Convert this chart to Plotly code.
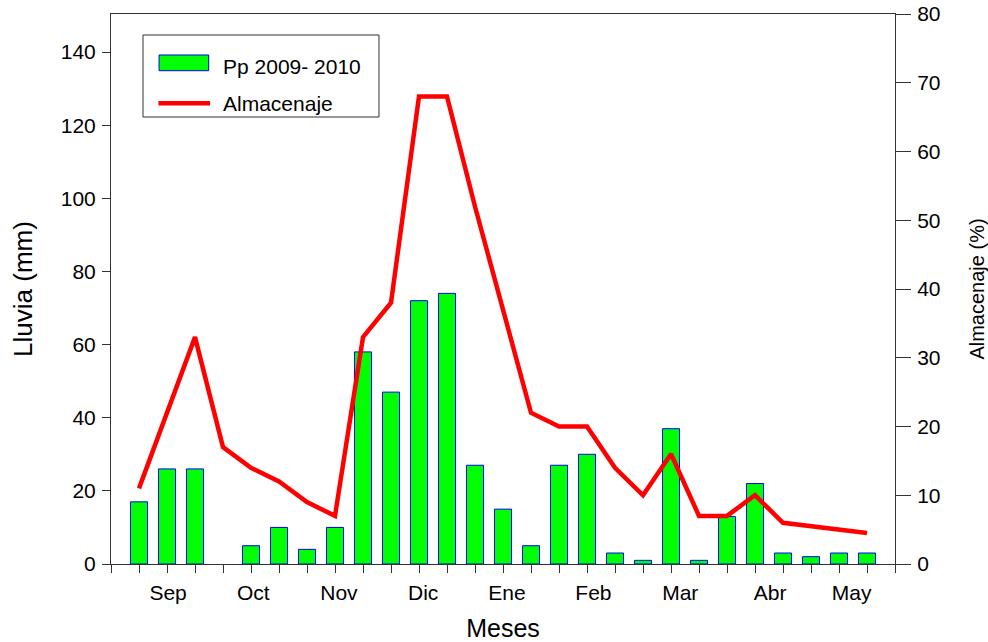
import plotly.graph_objects as go

# Period positions (one slot per period along the x axis)
periods = list(range(1, 28))
lluvia_mm = [17, 26, 26, None, 5, 10, 4, 10, 58, 47, 72, 74, 27, 15, 5, 27, 30, 3, 1, 37, 1, 13, 22, 3, 2, 3, 3]
almacenaje_pct = [11, 22, 33, 17, 14, 12, 9, 7, 33, 38, 68, 68, 52, 37, 22, 20, 20, 14, 10, 16, 7, 7, 10, 6, 5.5, 5, 4.5]

month_labels = ["Sep", "Oct", "Nov", "Dic", "Ene", "Feb", "Mar", "Abr", "May"]
month_pos = [2.04, 5.08, 8.14, 11.15, 14.14, 17.23, 20.33, 23.54, 26.45]

series_names = ["Pp 2009- 2010", "Almacenaje"]

FONT = "Liberation Sans, Arial, sans-serif"
AX = "#333333"

fig = go.Figure()
fig.add_trace(go.Bar(
    x=periods, y=lluvia_mm, name=series_names[0],
    marker=dict(color="#00FF00", line=dict(color="#0000FF", width=1)),
    width=0.61, yaxis="y", showlegend=False,
))
fig.add_trace(go.Scatter(
    x=periods, y=almacenaje_pct, name=series_names[1], mode="lines",
    line=dict(color="#FF0000", width=4.5), yaxis="y2", showlegend=False,
))

# Hand-drawn legend box (paper coordinates)
shapes = [
    dict(type="rect", xref="paper", yref="paper", x0=0.0408, x1=0.3418, y0=0.8127, y1=0.9618,
         line=dict(color=AX, width=1), fillcolor="white", layer="above"),
    dict(type="rect", xref="paper", yref="paper", x0=0.0613, x1=0.1246, y0=0.8969, y1=0.9255,
         line=dict(color="#0000FF", width=1), fillcolor="#00FF00", layer="above"),
    dict(type="line", xref="paper", yref="paper", x0=0.0605, x1=0.1263, y0=0.8376, y1=0.8376,
         line=dict(color="#FF0000", width=4.5), layer="above"),
]
annotations = [
    dict(xref="paper", yref="paper", x=0.1399, y=0.9045, xanchor="left", yanchor="middle",
         text=series_names[0], showarrow=False, font=dict(size=21)),
    dict(xref="paper", yref="paper", x=0.1399, y=0.8364, xanchor="left", yanchor="middle",
         text=series_names[1], showarrow=False, font=dict(size=21)),
]

fig.update_layout(
    width=988, height=642,
    margin=dict(l=111, r=93, t=14, b=78),
    plot_bgcolor="white", paper_bgcolor="white",
    font=dict(family=FONT, size=21, color="black"),
    showlegend=False,
    shapes=shapes, annotations=annotations,
    xaxis=dict(
        range=[0, 28], showgrid=False, zeroline=False, automargin=False,
        showline=True, linecolor=AX, linewidth=1, mirror=True,
        tickvals=month_pos, ticktext=month_labels, ticks="", ticklen=0,
        ticklabelstandoff=10,
        minor=dict(tick0=0, dtick=1, ticks="outside", ticklen=8, tickcolor=AX, showgrid=False),
        title=dict(text="Meses", font=dict(size=25), standoff=19),
    ),
    yaxis=dict(
        range=[0, 150.4], showgrid=False, zeroline=False, automargin=False,
        showline=True, linecolor=AX, linewidth=1,
        tickvals=[0, 20, 40, 60, 80, 100, 120, 140],
        ticks="outside", ticklen=8, tickcolor=AX,
        ticklabelstandoff=2,
        title=dict(text="Lluvia (mm)", font=dict(size=26), standoff=20),
    ),
    yaxis2=dict(
        range=[0, 80], overlaying="y", side="right", showgrid=False, zeroline=False,
        automargin=False,
        showline=True, linecolor=AX, linewidth=1,
        dtick=10, tick0=0, ticks="outside", ticklen=15, tickcolor=AX,
        ticklabelstandoff=2,
        title=dict(text="Almacenaje (%)", font=dict(size=20), standoff=32),
    ),
)

# remove the default 8px page margin so the figure fills the window exactly
fig.write_html(
    "out.html",
    config={"displayModeBar": False},
    post_script="document.body.style.margin='0';document.body.style.overflow='hidden';",
)
